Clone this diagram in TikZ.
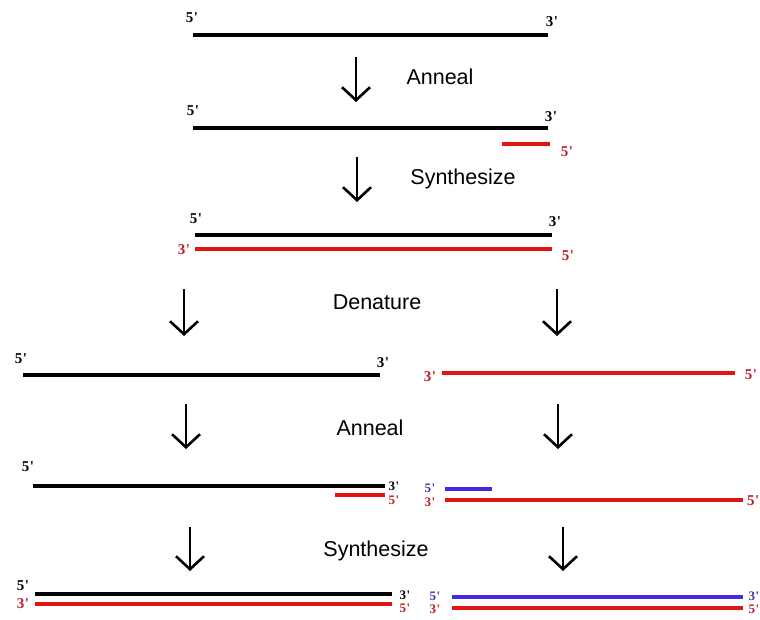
\documentclass[tikz,border=0pt]{standalone}
\usepackage{fontspec}
\setmainfont{Liberation Serif}
\setsansfont{Liberation Sans}
\usetikzlibrary{arrows.meta}
\definecolor{strandred}{RGB}{225,20,20}
\definecolor{strandblue}{RGB}{70,40,225}
\definecolor{labred}{RGB}{190,30,35}
\definecolor{labblue}{RGB}{75,45,170}
\newcommand{\fp}{5\kern0.5pt\textquotesingle}
\newcommand{\tp}{3\kern0.5pt\textquotesingle}
\tikzset{
  strand/.style={line width=3.8pt},
  blk/.style={strand,black},
  rd/.style={strand,strandred},
  bl/.style={strand,strandblue},
  endlab/.style={font=\fontsize{15}{15}\selectfont\bfseries,inner sep=0pt},
  kred/.style={endlab,text=labred},
  kblue/.style={endlab,text=labblue},
  tight/.style={font=\fontsize{13}{13}\selectfont\bfseries},
  steplab/.style={font=\sffamily\fontsize{21.5}{22}\selectfont,inner sep=0pt},
  steparrow/.style={line width=2.6pt,-{Straight Barb[length=13pt,width=28pt,line width=2.6pt]}}
}
\begin{document}
\begin{tikzpicture}[x=1pt,y=-1pt]
\useasboundingbox[fill=white] (0,0) rectangle (760,620);

% ---- single template strand
\coordinate (a1) at (193,35); \coordinate (b1) at (548,35);
\draw[blk] (a1) -- (b1);
\node[endlab] (a1l) at (192,18) {\fp};
\node[endlab] (b1l) at (552,22) {\tp};

\coordinate (s1) at (356,57); \coordinate (e1) at (356,102);
\draw[steparrow] (s1) -- (e1);
\node[steplab] (t1) at (440,77) {Anneal};

% ---- primer annealed
\coordinate (a2) at (193,128); \coordinate (b2) at (548,128);
\draw[blk] (a2) -- (b2);
\node[endlab] (a2l) at (193,111) {\fp};
\node[endlab] (b2l) at (551,117) {\tp};
\coordinate (p2a) at (502,144); \coordinate (p2b) at (550,144);
\draw[rd] (p2a) -- (p2b);
\node[kred] (p2l) at (567,152) {\fp};

\coordinate (s2) at (357,157); \coordinate (e2) at (357,202);
\draw[steparrow] (s2) -- (e2);
\node[steplab] (t2) at (463,179) {Synthesize};

% ---- duplex
\coordinate (a3) at (195,235); \coordinate (b3) at (552,235);
\draw[blk] (a3) -- (b3);
\node[endlab] (a3l) at (196,219) {\fp};
\node[endlab] (b3l) at (555,222) {\tp};
\coordinate (c3) at (195,249); \coordinate (d3) at (552,249);
\draw[rd] (c3) -- (d3);
\node[kred] (c3l) at (184,250) {\tp};
\node[kred] (d3l) at (568,256) {\fp};

\node[steplab] (t3) at (377,302) {Denature};
\coordinate (s3l) at (184,289); \coordinate (e3l) at (184,336);
\draw[steparrow] (s3l) -- (e3l);
\coordinate (s3r) at (557,289); \coordinate (e3r) at (557,336);
\draw[steparrow] (s3r) -- (e3r);

% ---- separated strands
\coordinate (a4) at (23,375); \coordinate (b4) at (380,375);
\draw[blk] (a4) -- (b4);
\node[endlab] (a4l) at (21,359) {\fp};
\node[endlab] (b4l) at (383,363) {\tp};
\coordinate (c4) at (442,373); \coordinate (d4) at (735,373);
\draw[rd] (c4) -- (d4);
\node[kred] (c4l) at (430,377) {\tp};
\node[kred] (d4l) at (751,375) {\fp};

\node[steplab] (t4) at (370,428) {Anneal};
\coordinate (s4l) at (186,404); \coordinate (e4l) at (186,449);
\draw[steparrow] (s4l) -- (e4l);
\coordinate (s4r) at (558,404); \coordinate (e4r) at (558,449);
\draw[steparrow] (s4r) -- (e4r);

% ---- primers on both strands
\coordinate (a5) at (33,486); \coordinate (b5) at (385,486);
\draw[blk] (a5) -- (b5);
\node[endlab] (a5l) at (28,467) {\fp};
\node[endlab,tight] (b5l) at (394,486) {\tp};
\coordinate (p5a) at (335,495); \coordinate (p5b) at (385,495);
\draw[rd] (p5a) -- (p5b);
\node[kred,tight] (p5l) at (394,500.5) {\fp};
\coordinate (q5a) at (445,489); \coordinate (q5b) at (492,489);
\draw[bl] (q5a) -- (q5b);
\node[kblue,tight] (q5l) at (430,488) {\fp};
\coordinate (c5) at (445,500); \coordinate (d5) at (743,500);
\draw[rd] (c5) -- (d5);
\node[kred,tight] (c5l) at (430,502) {\tp};
\node[kred,anchor=east] (d5l) at (759.5,501) {\fp};

\node[steplab] (t5) at (376,551) {Synthesize};
\coordinate (s5l) at (190,527); \coordinate (e5l) at (190,571);
\draw[steparrow] (s5l) -- (e5l);
\coordinate (s5r) at (563,527); \coordinate (e5r) at (563,571);
\draw[steparrow] (s5r) -- (e5r);

% ---- two duplexes
\coordinate (a6) at (35,594); \coordinate (b6) at (392,594);
\draw[blk] (a6) -- (b6);
\node[endlab] (a6l) at (23,586) {\fp};
\node[endlab,tight] (b6l) at (405,595.5) {\tp};
\coordinate (c6) at (35,604); \coordinate (d6) at (392,604);
\draw[rd] (c6) -- (d6);
\node[kred] (c6l) at (23,604) {\tp};
\node[kred,tight] (d6l) at (405,608) {\fp};
\coordinate (a6r) at (452,597); \coordinate (b6r) at (743,597);
\draw[bl] (a6r) -- (b6r);
\node[kblue,tight] (a6rl) at (435,596) {\fp};
\node[kblue,tight,anchor=east] (b6rl) at (759.5,596) {\tp};
\coordinate (c6r) at (452,608); \coordinate (d6r) at (743,608);
\draw[rd] (c6r) -- (d6r);
\node[kred,tight] (c6rl) at (435,609) {\tp};
\node[kred,tight,anchor=east] (d6rl) at (759.5,609) {\fp};
\end{tikzpicture}
\end{document}
